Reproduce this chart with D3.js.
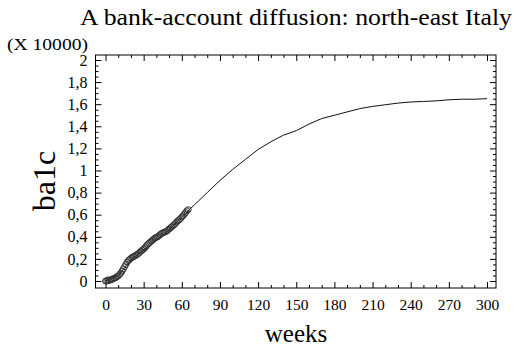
<!DOCTYPE html>
<html><head><meta charset="utf-8">
<script src="https://cdn.jsdelivr.net/npm/d3@7/dist/d3.min.js"></script>
<style>
html,body{margin:0;padding:0;background:#fff;}
</style></head><body>
<svg id="c" width="516" height="348"></svg>
<script>
// ---- data (values in units of 10000) ----
const obsWeeks = d3.range(0, 66);
const obsValues = [0.00,0.00,0.01,0.005,0.01,0.015,0.02,0.025,0.03,0.04,
  0.045,0.06,0.07,0.09,0.11,0.13,0.15,0.17,0.185,0.195,
  0.205,0.215,0.22,0.225,0.235,0.24,0.25,0.26,0.27,0.28,
  0.29,0.30,0.315,0.33,0.34,0.35,0.36,0.37,0.38,0.39,
  0.395,0.40,0.41,0.42,0.43,0.435,0.44,0.445,0.45,0.46,
  0.47,0.48,0.49,0.50,0.51,0.52,0.535,0.545,0.555,0.565,
  0.58,0.59,0.605,0.62,0.635,0.645];
const fitWeeks = [0,10,20,30,40,50,60,70,80,90,100,110,120,130,140,150,160,170,180,190,200,210,220,230,240,250,260,270,280,290,300];
const fitValues = [0.00,0.05,0.19,0.28,0.37,0.46,0.58,0.69,0.80,0.91,1.01,1.10,1.19,1.26,1.32,1.36,1.42,1.47,1.50,1.53,1.56,1.58,1.595,1.61,1.62,1.625,1.63,1.64,1.645,1.645,1.65];
const xTicks = [0,30,60,90,120,150,180,210,240,270,300];
const xTickLabels = ["0","30","60","90","120","150","180","210","240","270","300"];
const yTicks = [0,0.2,0.4,0.6,0.8,1,1.2,1.4,1.6,1.8,2];
const yTickLabels = ["0","0,2","0,4","0,6","0,8","1","1,2","1,4","1,6","1,8","2"];
const titleText = "A bank-account diffusion: north-east Italy";
const xTitle = "weeks";
const yTitle = "ba1c";
const yUnit = "(X 10000)";

const FONT = "'Liberation Serif', 'Times New Roman', serif";

// ---- layout ----
const L = 95.5, R = 496, T = 55, B = 288;
const x = d3.scaleLinear().domain([0,300]).range([105.5,487]);
const y = d3.scaleLinear().domain([0,2]).range([281,60]);
const svg = d3.select("#c");

const xMinor = d3.range(0, 301, 10).filter(v => v % 30 !== 0);
const yMinor = d3.range(0, 41).map(i => i*0.05).filter(v => Math.abs(v/0.2 - Math.round(v/0.2)) > 1e-6);

function style(g){ g.select(".domain").remove(); g.selectAll("line").attr("stroke","#000"); }
function tstyle(size){ return g => { g.attr("font-family", FONT); g.selectAll("text").style("font-family", FONT).attr("font-size",size).attr("fill","#000"); }; }

// bottom
svg.append("g").attr("transform",`translate(0,${B})`)
  .call(d3.axisBottom(x).tickValues(xMinor).tickSize(-3).tickFormat(""))
  .call(style);
svg.append("g").attr("transform",`translate(0,${B})`)
  .call(d3.axisBottom(x).tickValues(xTicks).tickSize(-6).tickPadding(11).tickFormat((d,i)=>xTickLabels[i]))
  .call(style).call(tstyle(15.5));
// top
svg.append("g").attr("transform",`translate(0,${T})`)
  .call(d3.axisTop(x).tickValues(xMinor).tickSize(-3).tickFormat("")).call(style);
svg.append("g").attr("transform",`translate(0,${T})`)
  .call(d3.axisTop(x).tickValues(xTicks).tickSize(-6).tickFormat("")).call(style);
// left
svg.append("g").attr("transform",`translate(${L},0)`)
  .call(d3.axisLeft(y).tickValues(yMinor).tickSize(-3).tickFormat("")).call(style);
svg.append("g").attr("transform",`translate(${L},0)`)
  .call(d3.axisLeft(y).tickValues(yTicks).tickSize(-6).tickPadding(8).tickFormat((d,i)=>yTickLabels[i]))
  .call(style).call(tstyle(16));
// right
svg.append("g").attr("transform",`translate(${R},0)`)
  .call(d3.axisRight(y).tickValues(yMinor).tickSize(-3).tickFormat("")).call(style);
svg.append("g").attr("transform",`translate(${R},0)`)
  .call(d3.axisRight(y).tickValues(yTicks).tickSize(-6).tickFormat("")).call(style);

// frame
svg.append("rect").attr("x",L).attr("y",T).attr("width",R-L).attr("height",B-T)
  .attr("fill","none").attr("stroke","#000").attr("stroke-width",1);

// fitted line
svg.append("path").datum(fitWeeks.map((w,i)=>[w,fitValues[i]]))
  .attr("fill","none").attr("stroke","#111").attr("stroke-width",1)
  .attr("d", d3.line().x(d=>x(d[0])).y(d=>y(d[1])));

// observations
svg.append("g").selectAll("circle").data(obsWeeks.map((w,i)=>[w,obsValues[i]]))
  .join("circle").attr("cx",d=>x(d[0])).attr("cy",d=>y(d[1])).attr("r",3)
  .attr("fill","none").attr("stroke","#333").attr("stroke-width",1);

// texts
function txt(){ return svg.append("text").style("font-family", FONT).attr("fill","#000"); }
txt().attr("x",80).attr("y",25).attr("font-size",24)
  .attr("textLength",432).attr("lengthAdjust","spacingAndGlyphs").text(titleText);
txt().attr("x",7).attr("y",50).attr("font-size",16)
  .attr("textLength",81).attr("lengthAdjust","spacingAndGlyphs").text(yUnit);
txt().attr("x",296).attr("y",342).attr("text-anchor","middle")
  .attr("font-size",25).text(xTitle);
txt().attr("transform","translate(55,181) rotate(-90)").attr("text-anchor","middle")
  .attr("font-size",32).text(yTitle);
</script>
</body></html>
